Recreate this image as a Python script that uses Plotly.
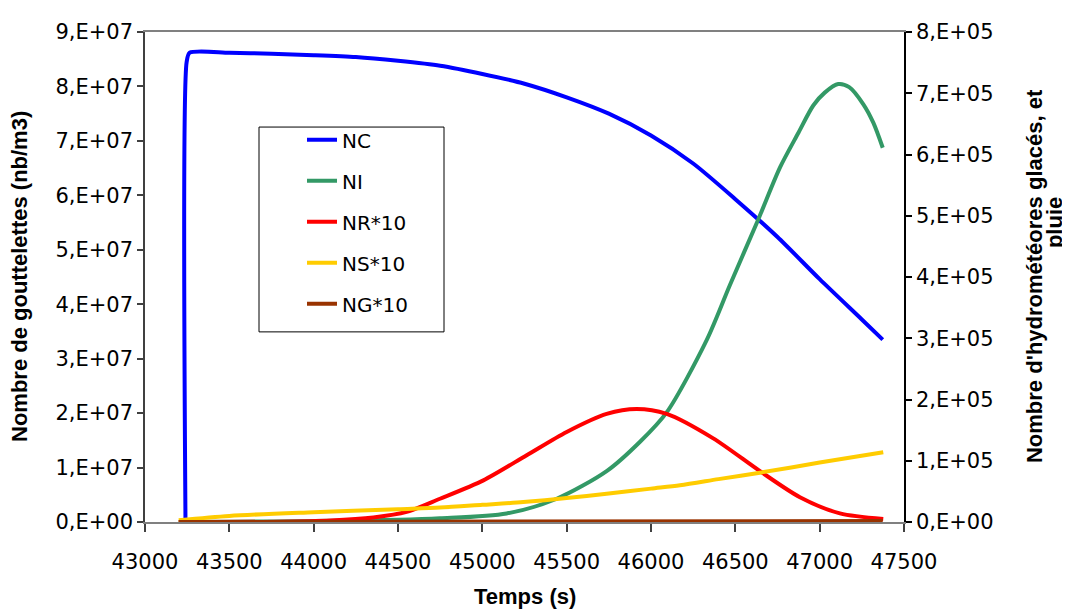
import plotly.graph_objects as go

# ---------------- data ----------------
t_nc = [43240, 43247, 43265, 43500, 43750, 44000, 44250, 44500, 44750, 45000,
        45250, 45500, 45750, 46000, 46250, 46500, 46750, 47000, 47250, 47374]
nc = [0.3e6, 8.45e7, 8.62e7, 8.62e7, 8.60e7, 8.575e7, 8.54e7, 8.47e7, 8.38e7, 8.23e7,
      8.05e7, 7.80e7, 7.50e7, 7.10e7, 6.585e7, 5.93e7, 5.235e7, 4.46e7, 3.72e7, 3.35e7]

t_ni = [43200, 43500, 44000, 44500, 44749, 45144, 45441, 45737, 45935, 46093, 46330,
        46468, 46636, 46765, 46875, 46962, 47030, 47110, 47175, 47259, 47318, 47374]
ni = [0, 500, 1500, 3500, 6000, 1.4e4, 3.8e4, 8.3e4, 1.31e5, 1.79e5, 2.97e5,
      3.87e5, 4.94e5, 5.79e5, 6.36e5, 6.80e5, 7.01e5, 7.15e5, 7.10e5, 6.82e5, 6.52e5, 6.11e5]

t_nr = [43200, 43800, 44100, 44354, 44551, 44749, 45006, 45263, 45500, 45737,
        45915, 46093, 46369, 46646, 46883, 47120, 47377]
nr = [0, 500, 2500, 7500, 1.65e4, 3.8e4, 6.8e4, 1.09e5, 1.47e5, 1.765e5,
      1.845e5, 1.765e5, 1.365e5, 8.3e4, 4.05e4, 1.4e4, 5e3]

t_ns = [43200, 43500, 44000, 44500, 44749, 45000, 45243, 45500, 45737, 46000,
        46172, 46400, 46646, 47000, 47377]
ns = [3000, 1.0e4, 1.6e4, 2.1e4, 2.35e4, 2.8e4, 3.25e4, 3.9e4, 4.6e4, 5.45e4,
      6.0e4, 7.0e4, 8.05e4, 9.7e4, 1.14e5]

t_ng = [43200, 44500, 46000, 47374]
ng = [0, 500, 1000, 1500]

x_ticks = [43000, 43500, 44000, 44500, 45000, 45500, 46000, 46500, 47000, 47500]
y1_ticks = [0, 1e7, 2e7, 3e7, 4e7, 5e7, 6e7, 7e7, 8e7, 9e7]
y1_labels = ["0,E+00", "1,E+07", "2,E+07", "3,E+07", "4,E+07",
             "5,E+07", "6,E+07", "7,E+07", "8,E+07", "9,E+07"]
y2_ticks = [0, 1e5, 2e5, 3e5, 4e5, 5e5, 6e5, 7e5, 8e5]
y2_labels = ["0,E+00", "1,E+05", "2,E+05", "3,E+05", "4,E+05",
             "5,E+05", "6,E+05", "7,E+05", "8,E+05"]

# ---------------- figure ----------------
TICK_FONT = "DejaVu Sans, Liberation Sans, Arial, sans-serif"
TITLE_FONT = "Liberation Sans, Arial, sans-serif"
OFF = 8                      # page body margin of the html page
W, H = 1070 - OFF, 615 - OFF
L, R, T, B = 145, 904, 22, 522   # plot area in page px


def px_x(p):
    return (p - L) / (R - L)


def px_y(p):
    return (B - p) / (B - T)


fig = go.Figure()
LW = 4
SM = 0.8
fig.add_trace(go.Scatter(x=t_nc, y=nc, name="NC", mode="lines", legendgroup="a",
                         line=dict(color="#0000FF", width=LW, shape="spline", smoothing=0.7)))
fig.add_trace(go.Scatter(x=t_ni, y=ni, name="NI", mode="lines", yaxis="y2", legendgroup="b",
                         line=dict(color="#339966", width=LW, shape="spline", smoothing=SM)))
fig.add_trace(go.Scatter(x=t_nr, y=nr, name="NR*10", mode="lines", yaxis="y2", legendgroup="c",
                         line=dict(color="#FF0000", width=LW, shape="spline", smoothing=SM)))
fig.add_trace(go.Scatter(x=t_ns, y=ns, name="NS*10", mode="lines", yaxis="y2", legendgroup="d",
                         line=dict(color="#FFCC00", width=LW, shape="spline", smoothing=SM)))
fig.add_trace(go.Scatter(x=t_ng, y=ng, name="NG*10", mode="lines", yaxis="y2", legendgroup="e",
                         line=dict(color="#993300", width=LW)))

fig.update_layout(
    width=W, height=H,
    margin=dict(l=L - OFF, r=W - (R - OFF), t=T - OFF, b=H - (B - OFF)),
    paper_bgcolor="white", plot_bgcolor="white",
    font=dict(family=TICK_FONT, size=21, color="black"),
    showlegend=True,
    legend=dict(x=px_x(302), y=px_y(112), xanchor="left", yanchor="top",
                bgcolor="rgba(0,0,0,0)", borderwidth=0,
                font=dict(family=TICK_FONT, size=20, color="black"),
                tracegroupgap=12, itemwidth=30),
    xaxis=dict(range=[43000, 47500], tickvals=x_ticks,
               ticktext=[str(v) for v in x_ticks],
               showgrid=False, zeroline=False,
               showline=True, linecolor="#808080", linewidth=1.5, mirror=True,
               ticks="outside", ticklen=8, tickcolor="#404040", tickwidth=1.5,
               ticklabelstandoff=12),
    yaxis=dict(range=[0, 9e7], tickvals=y1_ticks, ticktext=y1_labels,
               showgrid=False, zeroline=False,
               showline=True, linecolor="#404040", linewidth=1.5,
               ticks="outside", ticklen=6, tickcolor="#404040", tickwidth=1.5),
    yaxis2=dict(range=[0, 8e5], tickvals=y2_ticks, ticktext=y2_labels,
                overlaying="y", side="right",
                showgrid=False, zeroline=False,
                showline=True, linecolor="black", linewidth=1.5,
                ticks="outside", ticklen=6, tickcolor="black", tickwidth=1.5),
    shapes=[dict(type="rect", xref="paper", yref="paper",
                 x0=px_x(259), x1=px_x(444), y0=px_y(328), y1=px_y(119),
                 line=dict(color="black", width=1), fillcolor="white", layer="below")],
)

title_font = dict(family=TITLE_FONT, size=22, color="black", weight="bold")
fig.add_annotation(text="Nombre de gouttelettes (nb/m3)", xref="paper", yref="paper",
                   x=px_x(19), y=px_y(272), textangle=-90, showarrow=False,
                   xanchor="center", yanchor="middle", font=title_font)
fig.add_annotation(text="Nombre d'hydrométéores glacés, et", xref="paper", yref="paper",
                   x=px_x(1034), y=px_y(271), textangle=-90, showarrow=False,
                   xanchor="center", yanchor="middle", font=title_font)
fig.add_annotation(text="pluie", xref="paper", yref="paper",
                   x=px_x(1054), y=px_y(217), textangle=-90, showarrow=False,
                   xanchor="center", yanchor="middle", font=title_font)
fig.add_annotation(text="Temps (s)", xref="paper", yref="paper",
                   x=px_x(525), y=px_y(598), showarrow=False,
                   xanchor="center", yanchor="middle", font=title_font)

fig.write_html("out.html")
